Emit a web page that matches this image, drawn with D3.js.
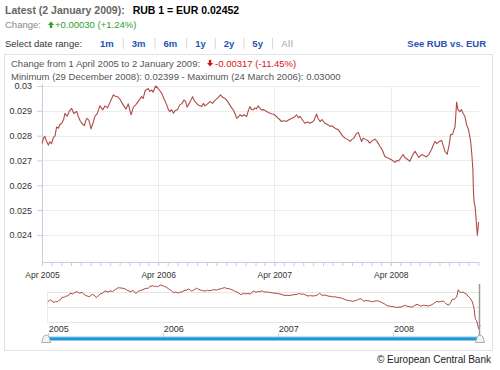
<!DOCTYPE html>
<html>
<head>
<meta charset="utf-8">
<script src="https://cdn.jsdelivr.net/npm/d3@7"></script>
<style>
  body { margin: 0; background: #fff; }
  text { font-family: "Liberation Sans", Arial, sans-serif; }
</style>
</head>
<body>
<div id="chartContainer"></div>
<script>
// RUB -> EUR reference rate, 1 April 2005 - 2 January 2009
var dates = [
  "2005-04-01","2005-04-06","2005-04-10","2005-04-15","2005-04-21","2005-04-26","2005-05-01","2005-05-06",
  "2005-05-12","2005-05-17","2005-05-23","2005-05-27","2005-06-02","2005-06-08","2005-06-12","2005-06-19",
  "2005-06-26","2005-07-03","2005-07-10","2005-07-19","2005-07-24","2005-07-29","2005-08-04","2005-08-12",
  "2005-08-17","2005-08-21","2005-08-27","2005-09-02","2005-09-08","2005-09-14","2005-09-22","2005-09-30",
  "2005-10-09","2005-10-16","2005-10-24","2005-11-01","2005-11-11","2005-11-16","2005-11-24","2005-12-02",
  "2005-12-07","2005-12-12","2005-12-21","2005-12-28","2006-01-06","2006-01-13","2006-01-21","2006-01-28",
  "2006-02-08","2006-02-13","2006-02-19","2006-03-01","2006-03-06","2006-03-12","2006-03-16","2006-03-24",
  "2006-04-01","2006-04-07","2006-04-12","2006-04-19","2006-04-28","2006-05-03","2006-05-08","2006-05-13",
  "2006-05-19","2006-05-24","2006-06-01","2006-06-08","2006-06-15","2006-06-21","2006-06-26","2006-07-01",
  "2006-07-05","2006-07-10","2006-07-18","2006-07-24","2006-07-31","2006-08-06","2006-08-16","2006-08-21",
  "2006-08-26","2006-09-03","2006-09-11","2006-09-19","2006-09-26","2006-10-04","2006-10-14","2006-10-20",
  "2006-10-28","2006-11-04","2006-11-12","2006-11-18","2006-11-23","2006-11-28","2006-12-04","2006-12-09",
  "2006-12-14","2006-12-20","2006-12-27","2007-01-04","2007-01-08","2007-01-14","2007-01-20","2007-01-25",
  "2007-01-30","2007-02-04","2007-02-09","2007-02-15","2007-02-20","2007-02-27","2007-03-08","2007-03-15",
  "2007-03-23","2007-04-01","2007-04-08","2007-04-15","2007-04-24","2007-05-01","2007-05-10","2007-05-17",
  "2007-05-26","2007-06-02","2007-06-10","2007-06-16","2007-06-21","2007-06-29","2007-07-06","2007-07-14",
  "2007-07-22","2007-07-30","2007-08-04","2007-08-12","2007-08-17","2007-08-23","2007-08-29","2007-09-07",
  "2007-09-18","2007-09-23","2007-09-29","2007-10-09","2007-10-19","2007-10-24","2007-11-01","2007-11-09",
  "2007-11-17","2007-11-25","2007-12-01","2007-12-07","2007-12-13","2007-12-21","2007-12-26","2007-12-31",
  "2008-01-06","2008-01-12","2008-01-20","2008-01-26","2008-02-03","2008-02-11","2008-02-19","2008-02-27",
  "2008-03-06","2008-03-13","2008-03-20","2008-03-26","2008-04-03","2008-04-09","2008-04-14","2008-04-20",
  "2008-04-26","2008-05-03","2008-05-10","2008-05-15","2008-05-23","2008-05-31","2008-06-08","2008-06-16",
  "2008-06-22","2008-06-28","2008-07-07","2008-07-14","2008-07-22","2008-07-30","2008-08-07","2008-08-12",
  "2008-08-18","2008-08-24","2008-08-30","2008-09-08","2008-09-13","2008-09-18","2008-09-25","2008-10-01",
  "2008-10-06","2008-10-12","2008-10-20","2008-10-25","2008-10-29","2008-11-04","2008-11-09","2008-11-14",
  "2008-11-20","2008-11-25","2008-12-01","2008-12-08","2008-12-12","2008-12-15","2008-12-17","2008-12-19",
  "2008-12-22","2008-12-29","2008-12-31","2009-01-02"
];
var rates = [
  0.02769,0.02790,0.02797,0.02778,0.02762,0.02775,0.02768,0.02790,
  0.02800,0.02835,0.02830,0.02845,0.02850,0.02865,0.02890,0.02878,
  0.02898,0.02910,0.02889,0.02898,0.02877,0.02862,0.02850,0.02840,
  0.02862,0.02870,0.02860,0.02827,0.02850,0.02877,0.02890,0.02920,
  0.02904,0.02920,0.02912,0.02935,0.02964,0.02960,0.02957,0.02947,
  0.02935,0.02924,0.02907,0.02928,0.02884,0.02915,0.02925,0.02937,
  0.02957,0.02950,0.02981,0.02990,0.02978,0.02984,0.02975,0.03000,
  0.02990,0.02980,0.02971,0.02950,0.02924,0.02905,0.02897,0.02905,
  0.02890,0.02900,0.02905,0.02924,0.02930,0.02944,0.02938,0.02915,
  0.02924,0.02935,0.02957,0.02940,0.02930,0.02922,0.02917,0.02930,
  0.02920,0.02928,0.02937,0.02930,0.02942,0.02950,0.02964,0.02955,
  0.02950,0.02940,0.02924,0.02912,0.02904,0.02890,0.02870,0.02875,
  0.02884,0.02878,0.02884,0.02877,0.02895,0.02917,0.02905,0.02904,
  0.02912,0.02908,0.02920,0.02910,0.02904,0.02905,0.02897,0.02892,
  0.02888,0.02885,0.02877,0.02868,0.02857,0.02860,0.02858,0.02864,
  0.02870,0.02874,0.02884,0.02872,0.02878,0.02862,0.02850,0.02855,
  0.02850,0.02855,0.02862,0.02887,0.02868,0.02857,0.02865,0.02850,
  0.02843,0.02837,0.02840,0.02830,0.02824,0.02815,0.02800,0.02790,
  0.02785,0.02777,0.02785,0.02790,0.02805,0.02813,0.02795,0.02777,
  0.02790,0.02785,0.02780,0.02770,0.02780,0.02786,0.02775,0.02757,
  0.02740,0.02717,0.02712,0.02708,0.02703,0.02698,0.02692,0.02700,
  0.02698,0.02712,0.02724,0.02712,0.02705,0.02697,0.02720,0.02737,
  0.02725,0.02712,0.02724,0.02720,0.02714,0.02725,0.02744,0.02760,
  0.02777,0.02768,0.02775,0.02780,0.02760,0.02737,0.02725,0.02760,
  0.02804,0.02805,0.02837,0.02935,0.02905,0.02897,0.02905,0.02890,
  0.02877,0.02845,0.02826,0.02777,0.02720,0.02663,0.02569,0.02530,
  0.02516,0.02399,0.02422,0.02452
];

var yTicks = [0.024, 0.025, 0.026, 0.027, 0.028, 0.029, 0.03];
var xTicks = ["2005-04-01", "2006-04-01", "2007-04-01", "2008-04-01"];
var navGrid = [0.025, 0.027, 0.029];
var rangeLinks = ["1m", "3m", "6m", "1y", "2y", "5y"];

var WIDTH = 500, HEIGHT = 370;
var LINE_COLOR = "#AA4643";
var AXIS_COLOR = "#C0D0E0";
var GRID_COLOR = "#ececec";
var LINK_COLOR = "#2752b5";

var parse = d3.timeParse("%Y-%m-%d");
var data = dates.map(function (d, i) { return { date: parse(d), rate: rates[i] }; });

var svg = d3.select("#chartContainer").append("svg")
    .attr("width", WIDTH)
    .attr("height", HEIGHT);

// ---- header lines ----
var latest = svg.append("text").attr("x", 5).attr("y", 14)
    .style("font-size", "10.5px").style("font-weight", "bold");
latest.append("tspan").attr("fill", "#666").text("Latest (2 January 2009):");
latest.append("tspan").attr("fill", "#000").attr("dx", 8).text("RUB 1 = EUR 0.02452");

svg.append("text").attr("x", 5).attr("y", 28)
    .style("font-size", "9.5px").attr("fill", "#888").text("Change:");
// little up arrow
svg.append("path").attr("d", "M48,25 L51,21.5 L54,25 L52.2,25 L52.2,28 L49.8,28 L49.8,25 Z").attr("fill", "#2e9e2e");
svg.append("text").attr("x", 55).attr("y", 28)
    .style("font-size", "9.5px").attr("fill", "#2e9e2e").text("+0.00030 (+1.24%)");

svg.append("text").attr("x", 5).attr("y", 47)
    .style("font-size", "9.5px").attr("fill", "#333").text("Select date range:");

// range links laid out like inline text with separators
var cursor = 100;
rangeLinks.concat(["All"]).forEach(function (r, i) {
  var t = svg.append("text").attr("x", cursor).attr("y", 47)
      .style("font-size", "9.5px").style("font-weight", "bold")
      .attr("fill", r === "All" ? "#c4c4c4" : LINK_COLOR).text(r);
  var w = t.node().getComputedTextLength();
  if (r !== "All") {
    svg.append("line").attr("x1", cursor + w + 9.5).attr("x2", cursor + w + 9.5)
        .attr("y1", 38).attr("y2", 49).attr("stroke", "#d8d8d8");
  }
  cursor += w + 18;
});

svg.append("text").attr("x", 486).attr("y", 47).attr("text-anchor", "end")
    .style("font-size", "9.5px").style("font-weight", "bold")
    .attr("fill", LINK_COLOR).text("See RUB vs. EUR");

// chart frame
svg.append("rect").attr("x", 4.5).attr("y", 54.5).attr("width", 488).attr("height", 296)
    .attr("fill", "none").attr("stroke", "#e2e2e2");

// change / min-max info
var info = svg.append("text").attr("x", 11).attr("y", 67)
    .style("font-size", "9.5px").attr("fill", "#555").text("Change from 1 April 2005 to 2 January 2009:");
var infoEnd = 11 + info.node().getComputedTextLength();
svg.append("path")
    .attr("d", "M" + (infoEnd + 7) + ",63 L" + (infoEnd + 10) + ",66.5 L" + (infoEnd + 13) + ",63 L" + (infoEnd + 11.2) + ",63 L" + (infoEnd + 11.2) + ",60 L" + (infoEnd + 8.8) + ",60 L" + (infoEnd + 8.8) + ",63 Z")
    .attr("fill", "#dd1111");
svg.append("text").attr("x", infoEnd + 15).attr("y", 67)
    .style("font-size", "9.5px").attr("fill", "#dd1111").text("-0.00317 (-11.45%)");

svg.append("text").attr("x", 11).attr("y", 80)
    .style("font-size", "9.5px").attr("fill", "#555")
    .text("Minimum (29 December 2008): 0.02399 - Maximum (24 March 2006): 0.03000");

// ---- main plot ----
var PLOT = { left: 42, right: 478.6, top: 86, bottom: 262 };

var x = d3.scaleTime()
    .domain([data[0].date, data[data.length - 1].date])
    .range([PLOT.left, PLOT.right]);
var y = d3.scaleLinear()
    .domain([0.02291, 0.03])
    .range([PLOT.bottom, PLOT.top]);

var grid = svg.append("g");
grid.selectAll(".hgrid").data(yTicks).enter().append("line")
    .attr("x1", PLOT.left).attr("x2", 479)
    .attr("y1", function (d) { return Math.round(y(d)) + 0.5; })
    .attr("y2", function (d) { return Math.round(y(d)) + 0.5; })
    .attr("stroke", GRID_COLOR);
grid.selectAll(".vgrid").data(xTicks.map(parse)).enter().append("line")
    .attr("y1", PLOT.top).attr("y2", PLOT.bottom)
    .attr("x1", function (d) { return Math.round(x(d)) + 0.5; })
    .attr("x2", function (d) { return Math.round(x(d)) + 0.5; })
    .attr("stroke", GRID_COLOR);

var yAxis = svg.append("g")
    .attr("transform", "translate(" + PLOT.left + ",0)")
    .call(d3.axisLeft(y).tickValues(yTicks).tickSize(5).tickSizeOuter(0).tickPadding(5)
      .tickFormat(function (d) { return String(d); }));

// monthly minor ticks then the labelled April ticks
var minor = svg.append("g")
    .attr("transform", "translate(0," + PLOT.bottom + ")")
    .call(d3.axisBottom(x).tickValues(d3.timeMonth.range(data[0].date, data[data.length - 1].date))
      .tickSize(4).tickSizeOuter(0).tickFormat(""));
var xAxis = svg.append("g")
    .attr("transform", "translate(0," + PLOT.bottom + ")")
    .call(d3.axisBottom(x).tickValues(xTicks.map(parse)).tickSize(4).tickSizeOuter(0).tickPadding(6)
      .tickFormat(d3.timeFormat("%b %Y")));

[yAxis, minor, xAxis].forEach(function (a) {
  a.selectAll("path, line").attr("stroke", AXIS_COLOR);
  a.selectAll("text").attr("fill", "#333")
      .style("font-family", '"Liberation Sans", Arial, sans-serif');
});
yAxis.selectAll("text").style("font-size", "9px");
xAxis.selectAll("text").style("font-size", "8.5px");
// axis line sticks out above the plot a bit, like the original
yAxis.select(".domain").attr("d", "M0.5," + (PLOT.top - 2) + "V" + PLOT.bottom);

var line = d3.line()
    .x(function (d) { return x(d.date); })
    .y(function (d) { return y(d.rate); });

svg.append("path").datum(data)
    .attr("d", line)
    .attr("fill", "none")
    .attr("stroke", "#b04a46")
    .attr("stroke-width", 1.1)
    .attr("stroke-linejoin", "round");

// ---- navigator ----
var NAV = { left: 47.7, right: 480, top: 285, bottom: 329 };
var nx = d3.scaleTime()
    .domain([data[0].date, data[data.length - 1].date])
    .range([NAV.left, NAV.right]);
var ny = d3.scaleLinear()
    .domain([0.024, 0.03])
    .range([NAV.bottom, NAV.top]);

svg.selectAll(".navgrid").data(navGrid).enter().append("line")
    .attr("x1", NAV.left).attr("x2", NAV.right)
    .attr("y1", function (d) { return Math.round(ny(d)) + 0.5; })
    .attr("y2", function (d) { return Math.round(ny(d)) + 0.5; })
    .attr("stroke", "#e6e6e6");
svg.append("line").attr("x1", 47.5).attr("x2", 47.5)
    .attr("y1", Math.round(ny(0.029))).attr("y2", Math.round(ny(0.025)) + 1)
    .attr("stroke", "#eaeaea");

var navLine = d3.line()
    .x(function (d) { return nx(d.date); })
    .y(function (d) { return ny(d.rate); });
svg.append("path").datum(data)
    .attr("d", navLine)
    .attr("fill", "none")
    .attr("stroke", LINE_COLOR)
    .attr("stroke-width", 1);

// navigator year labels sit right of their tick
var navTicks = svg.append("g").selectAll(".navtick").data(xTicks.map(parse)).enter().append("g");
navTicks.append("line")
    .attr("x1", function (d) { return Math.round(nx(d)) + 0.5; })
    .attr("x2", function (d) { return Math.round(nx(d)) + 0.5; })
    .attr("y1", 333).attr("y2", 337)
    .attr("stroke", AXIS_COLOR);
navTicks.append("text")
    .attr("x", function (d) { return nx(d) + 1; })
    .attr("y", 332)
    .style("font-size", "9px").attr("fill", "#333")
    .text(d3.timeFormat("%Y"));

// selected-range edge
svg.append("line").attr("x1", 479.5).attr("x2", 479.5).attr("y1", 284).attr("y2", 337)
    .attr("stroke", "#999").attr("stroke-width", 1.5);

// scrollbar
var grad = svg.append("defs").append("linearGradient")
    .attr("id", "barGrad").attr("x1", 0).attr("x2", 0).attr("y1", 0).attr("y2", 1);
grad.append("stop").attr("offset", "0%").attr("stop-color", "#7fcdf5");
grad.append("stop").attr("offset", "50%").attr("stop-color", "#1f98db");
grad.append("stop").attr("offset", "100%").attr("stop-color", "#2a8fd0");
svg.append("rect").attr("x", NAV.left).attr("y", 336.5).attr("width", NAV.right - NAV.left).attr("height", 4)
    .attr("fill", "url(#barGrad)");

[NAV.left - 1.5, NAV.right].forEach(function (hx) {
  svg.append("path")
      .attr("d", "M" + (hx - 4.5) + ",342.5 L" + (hx - 3) + ",337 Q" + hx + ",333 " + (hx + 3) + ",337 L" + (hx + 4.5) + ",342.5 Z")
      .attr("fill", "#f2f2f2").attr("stroke", "#999").attr("stroke-width", 0.8);
});

// credit
svg.append("text").attr("x", 491).attr("y", 363).attr("text-anchor", "end")
    .style("font-size", "10px").attr("fill", "#222").text("\u00a9 European Central Bank");
</script>
</body>
</html>
